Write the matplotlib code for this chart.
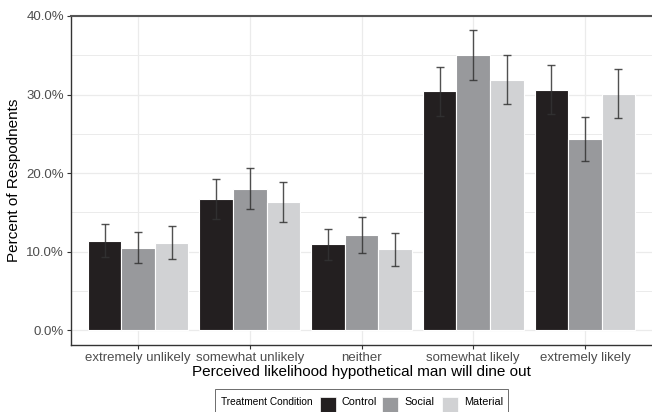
import numpy as np
import matplotlib.pyplot as plt
from matplotlib.patches import Rectangle
from matplotlib.ticker import FixedLocator

plt.rcParams['font.family'] = ['Liberation Sans', 'DejaVu Sans']

# --- Data (percent of respondents, with error bar bounds) ---
categories = ["extremely unlikely", "somewhat unlikely", "neither",
              "somewhat likely", "extremely likely"]
conditions = ["Control", "Social", "Material"]
colors = ["#231f20", "#98999c", "#d1d2d4"]

control = [11.4, 16.7, 10.9, 30.4, 30.6]
social = [10.5, 18.0, 12.1, 35.0, 24.3]
material = [11.1, 16.3, 10.3, 31.9, 30.1]

control_hi = [13.5, 19.2, 12.9, 33.5, 33.7]
social_hi = [12.5, 20.6, 14.4, 38.2, 27.1]
material_hi = [13.2, 18.9, 12.4, 35.0, 33.2]

yticks = [0, 10, 20, 30, 40]
ytick_labels = ["0.0%", "10.0%", "20.0%", "30.0%", "40.0%"]

series = [control, social, material]
series_hi = [control_hi, social_hi, material_hi]

# --- Figure ---
fig = plt.figure(figsize=(6.52, 4.12), dpi=100)
ax = fig.add_axes([71 / 652, 1 - 345 / 412, 1 - 71 / 652, (345 - 16) / 412])

x = np.arange(len(categories))
w = 0.3
for i, (vals, hi, col) in enumerate(zip(series, series_hi, colors)):
    pos = x + (i - 1) * w
    vals = np.array(vals)
    err = np.array(hi) - vals
    ax.bar(pos, vals, width=w, color=col, edgecolor="white", linewidth=0.8,
           zorder=2)
    ax.errorbar(pos, vals, yerr=err, fmt="none", ecolor="#333333",
                elinewidth=1.0, capsize=3, capthick=1.0, alpha=0.85, zorder=3)

ax.set_xlim(-0.6, 4.6)
ax.set_ylim(-1.91, 40)
ax.set_xticks(x)
ax.set_xticklabels(categories, fontsize=9.5, color="#4d4d4d")
ax.set_yticks(yticks)
ax.set_yticklabels(ytick_labels, fontsize=9.5, color="#4d4d4d")
ax.yaxis.set_minor_locator(FixedLocator([5, 15, 25, 35]))
ax.tick_params(axis="both", which="major", length=3, color="#333333", pad=2)
ax.tick_params(axis="y", which="minor", length=0)

ax.grid(True, which="major", color="#ebebeb", linewidth=0.9, zorder=0)
ax.grid(True, which="minor", axis="y", color="#ebebeb", linewidth=0.7, zorder=0)
ax.set_axisbelow(True)

for s in ["left", "bottom"]:
    ax.spines[s].set_color("#333333")
    ax.spines[s].set_linewidth(1.0)
ax.spines["top"].set_color("#555555")
ax.spines["top"].set_linewidth(1.5)
ax.spines["right"].set_visible(False)

ax.set_ylabel("Percent of Respodnents", fontsize=11, labelpad=4)
ax.set_xlabel("Perceived likelihood hypothetical man will dine out",
              fontsize=11, labelpad=1)

# --- Legend (ggplot-style, bottom, horizontal) ---
W, H = 652, 412
def fx(px):
    return px / W
def fy(py):
    return 1 - py / H

fig.patches.append(Rectangle((fx(215), fy(420)), fx(508) - fx(215),
                             fy(389) - fy(420), transform=fig.transFigure,
                             facecolor="white", edgecolor="#555555",
                             linewidth=0.6))
fig.text(fx(221), fy(402), "Treatment Condition", fontsize=7.3,
         va="center", ha="left", color="black")
key_x = [320, 382, 442]
for kx, lab, col in zip(key_x, conditions, colors):
    fig.patches.append(Rectangle((fx(kx), fy(413)), fx(16), fy(396) - fy(412),
                                 transform=fig.transFigure, facecolor=col,
                                 edgecolor="white", linewidth=0.5))
    fig.text(fx(kx + 22), fy(402), lab, fontsize=7.8, va="center",
             ha="left", color="black")

fig.savefig("out.png", dpi=100)
